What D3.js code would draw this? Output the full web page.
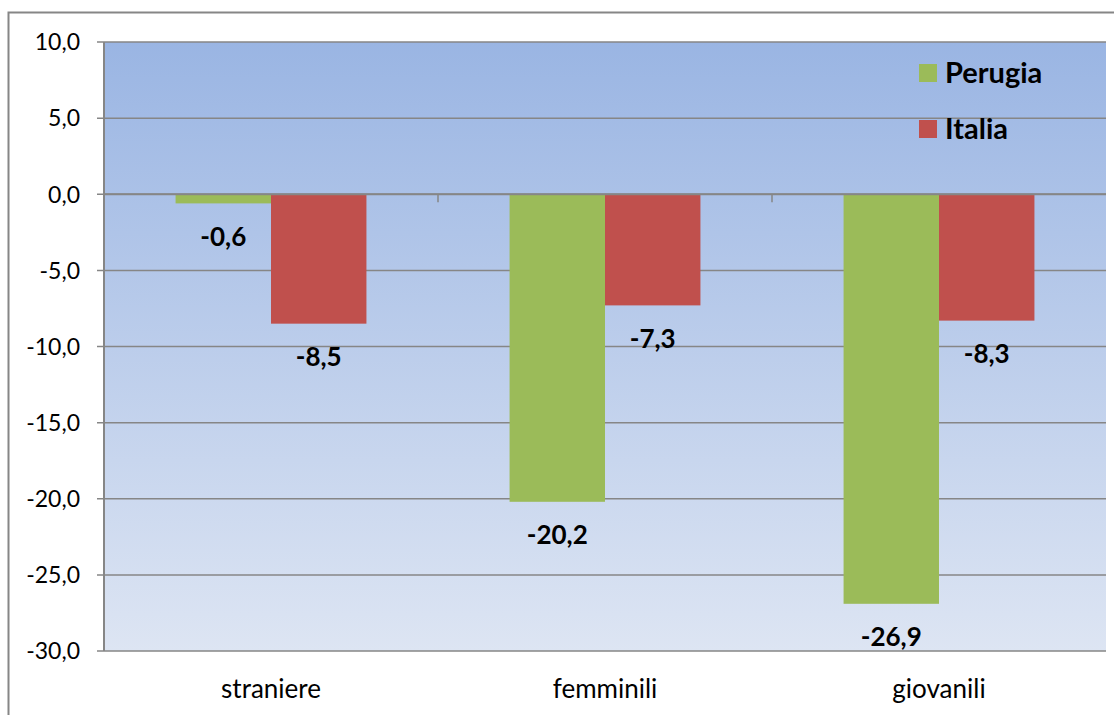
<!DOCTYPE html>
<html>
<head>
<meta charset="utf-8">
<script src="https://cdn.jsdelivr.net/npm/d3@7"></script>
<style>
  body { margin: 0; background: #fff; }
  svg { display: block; font-family: Lato, "Open Sans", sans-serif; }
</style>
</head>
<body>
<svg id="main"></svg>
<script>
var categories = ["straniere", "femminili", "giovanili"];
var seriesNames = ["Perugia", "Italia"];
var perugia = [-0.6, -20.2, -26.9];
var italia = [-8.5, -7.3, -8.3];
var yTicks = [10, 5, 0, -5, -10, -15, -20, -25, -30];
var colors = ["#9BBB59", "#C0504D"];

var w = 1114;
var h = 715;
var padLeft = 104, padRight = 1106, padTop = 42, padBottom = 651;

var svg = d3.select("#main")
  .attr("width", w)
  .attr("height", h);

var defs = svg.append("defs");
var grad = defs.append("linearGradient")
  .attr("id", "bg")
  .attr("x1", 0).attr("y1", 0).attr("x2", 0).attr("y2", 1);
grad.append("stop").attr("offset", "0%").attr("stop-color", "#9AB5E3");
grad.append("stop").attr("offset", "100%").attr("stop-color", "#DDE5F3");

// outer chart frame
svg.append("rect")
  .attr("x", 8.5).attr("y", 12.5)
  .attr("width", w + 10).attr("height", h + 10)
  .attr("fill", "#fff")
  .attr("stroke", "#868686")
  .attr("stroke-width", 2);

var x0 = d3.scaleBand()
  .domain(categories)
  .range([padLeft, padRight]);

var x1 = d3.scaleBand()
  .domain(seriesNames)
  .range([0, x0.bandwidth()])
  .paddingInner(0)
  .paddingOuter(0.75);

var y = d3.scaleLinear()
  .domain([10, -30])
  .range([padTop, padBottom]);

// plot background
svg.append("rect")
  .attr("x", padLeft).attr("y", padTop)
  .attr("width", padRight - padLeft).attr("height", padBottom - padTop)
  .attr("fill", "url(#bg)");

// gridlines
svg.append("g")
  .selectAll("line")
  .data(yTicks)
  .enter()
  .append("line")
  .attr("x1", padLeft - 7)
  .attr("x2", padRight)
  .attr("y1", function(d) { return y(d); })
  .attr("y2", function(d) { return y(d); })
  .attr("stroke", "#868686")
  .attr("stroke-width", 1.5);

// left axis line
svg.append("line")
  .attr("x1", padLeft).attr("x2", padLeft)
  .attr("y1", padTop).attr("y2", padBottom)
  .attr("stroke", "#868686")
  .attr("stroke-width", 2);

// y tick labels
svg.append("g")
  .selectAll("text")
  .data(yTicks)
  .enter()
  .append("text")
  .attr("x", 80)
  .attr("y", function(d) { return y(d); })
  .attr("dy", "0.36em")
  .attr("text-anchor", "end")
  .attr("font-size", 23)
  .attr("fill", "#000")
  .text(function(d) { return d.toFixed(1).replace(".", ","); });

// bars
var data = categories.map(function(c, i) {
  return [
    { cat: c, name: seriesNames[0], value: perugia[i], color: colors[0] },
    { cat: c, name: seriesNames[1], value: italia[i], color: colors[1] }
  ];
});

var groups = svg.append("g")
  .selectAll("g")
  .data(data)
  .enter()
  .append("g")
  .attr("transform", function(d, i) { return "translate(" + x0(categories[i]) + ",0)"; });

groups.selectAll("rect")
  .data(function(d) { return d; })
  .enter()
  .append("rect")
  .attr("x", function(d) { return x1(d.name); })
  .attr("width", x1.bandwidth())
  .attr("y", function(d) { return y(Math.max(0, d.value)); })
  .attr("height", function(d) { return Math.abs(y(d.value) - y(0)); })
  .attr("fill", function(d) { return d.color; });

// value labels
groups.selectAll("text")
  .data(function(d) { return d; })
  .enter()
  .append("text")
  .attr("x", function(d) { return x1(d.name) + x1.bandwidth() / 2; })
  .attr("y", function(d) { return y(d.value) + 33; })
  .attr("dy", "0.36em")
  .attr("text-anchor", "middle")
  .attr("font-size", 26)
  .attr("font-weight", "bold")
  .attr("fill", "#000")
  .text(function(d) { return d.value.toFixed(1).replace(".", ","); });

// x axis at zero
svg.append("line")
  .attr("x1", padLeft).attr("x2", padRight)
  .attr("y1", y(0)).attr("y2", y(0))
  .attr("stroke", "#868686")
  .attr("stroke-width", 2);

svg.append("g")
  .selectAll("line")
  .data(categories.slice(1))
  .enter()
  .append("line")
  .attr("x1", function(d) { return x0(d); })
  .attr("x2", function(d) { return x0(d); })
  .attr("y1", y(0))
  .attr("y2", y(0) + 8)
  .attr("stroke", "#868686")
  .attr("stroke-width", 1.5);

// category labels
svg.append("g")
  .selectAll("text")
  .data(categories)
  .enter()
  .append("text")
  .attr("x", function(d) { return x0(d) + x0.bandwidth() / 2; })
  .attr("y", 689)
  .attr("dy", "0.36em")
  .attr("text-anchor", "middle")
  .attr("font-size", 26)
  .attr("fill", "#000")
  .text(function(d) { return d; });

// legend
var legend = svg.append("g")
  .selectAll("g")
  .data(seriesNames)
  .enter()
  .append("g")
  .attr("transform", function(d, i) { return "translate(919," + (64 + i * 56) + ")"; });

legend.append("rect")
  .attr("width", 18).attr("height", 18)
  .attr("fill", function(d, i) { return colors[i]; });

legend.append("text")
  .attr("x", 26)
  .attr("y", 9)
  .attr("dy", "0.36em")
  .attr("font-size", 29)
  .attr("font-weight", "bold")
  .attr("fill", "#000")
  .text(function(d) { return d; });
</script>
</body>
</html>
